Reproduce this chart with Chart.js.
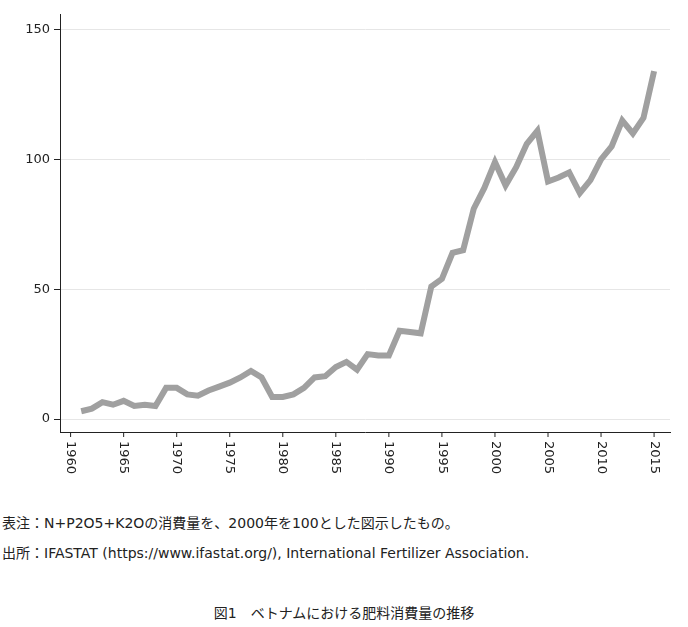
<!DOCTYPE html>
<html><head><meta charset="utf-8">
<script src="https://cdn.jsdelivr.net/npm/chart.js@4"></script>
<style>
body{margin:0;background:#fff;font-family:"DejaVu Sans","Noto Sans CJK JP",sans-serif;}
#wrap{position:absolute;left:0;top:0;width:688px;height:500px;}
.t{position:absolute;font-size:14px;color:#222;white-space:nowrap;}
</style></head><body>
<div id="wrap"><canvas id="c"></canvas></div>
<div class="t" style="left:2px;top:512px">表注：N+P2O5+K2Oの消費量を、2000年を100とした図示したもの。</div>
<div class="t" style="left:2px;top:542px">出所：IFASTAT (https://www.ifastat.org/), International Fertilizer Association.</div>
<div class="t" style="left:0;width:688px;text-align:center;top:602px">図1　ベトナムにおける肥料消費量の推移</div>
<script>
const years=[1961,1962,1963,1964,1965,1966,1967,1968,1969,1970,1971,1972,1973,1974,1975,1976,1977,1978,1979,1980,1981,1982,1983,1984,1985,1986,1987,1988,1989,1990,1991,1992,1993,1994,1995,1996,1997,1998,1999,2000,2001,2002,2003,2004,2005,2006,2007,2008,2009,2010,2011,2012,2013,2014,2015];
const values=[3,4,6.5,5.5,7,5,5.5,5,12,12,9.5,9,11,12.5,14,16,18.5,16,8.5,8.5,9.5,12,16,16.5,20,22,19,25,24.5,24.5,34,33.5,33,51,54,64,65,81,89,99,90,97,106,111,91.5,93,95,87,92,100,105,115,110,116,134];
const xTicks=[1960,1965,1970,1975,1980,1985,1990,1995,2000,2005,2010,2015];
const yTicks=[0,50,100,150];
const rotLabels={id:'rot',afterDraw(ch){const s=ch.scales.x,c=ch.ctx;c.save();c.font='13px "DejaVu Sans"';c.fillStyle='#222';c.textBaseline='middle';
 xTicks.forEach(v=>{const x=s.getPixelForValue(v);c.strokeStyle='#222';c.lineWidth=1;c.beginPath();c.moveTo(x,s.top);c.lineTo(x,s.top+5);c.stroke();
 c.save();c.translate(x,s.top+9);c.rotate(Math.PI/2);c.textAlign='left';c.fillText(String(v),0,0);c.restore();});
 c.restore();}};
new Chart(document.getElementById('c'),{type:'line',
data:{datasets:[{data:years.map((y,i)=>({x:y,y:values[i]})),borderColor:'#a0a0a0',borderWidth:6,pointRadius:0,tension:0}]},
options:{responsive:true,maintainAspectRatio:false,animation:false,
layout:{padding:{left:0,right:18,top:14,bottom:0}},
plugins:{legend:{display:false},tooltip:{enabled:false}},
scales:{
x:{type:'linear',min:1959,max:2016.5,afterBuildTicks(a){a.ticks=xTicks.map(v=>({value:v}));},
 ticks:{display:false},grid:{display:false,drawTicks:false},border:{display:true,color:'#222'},afterFit(a){a.height=68;}},
y:{min:-5,max:156,afterBuildTicks(a){a.ticks=yTicks.map(v=>({value:v}));},
 ticks:{color:'#222',font:{size:13,family:'DejaVu Sans'},padding:4},
 grid:{color:'#e6e6e6',tickColor:'#222',tickLength:6},border:{display:true,color:'#222'},afterFit(a){a.width=60;}}
}},plugins:[rotLabels]});
</script></body></html>
